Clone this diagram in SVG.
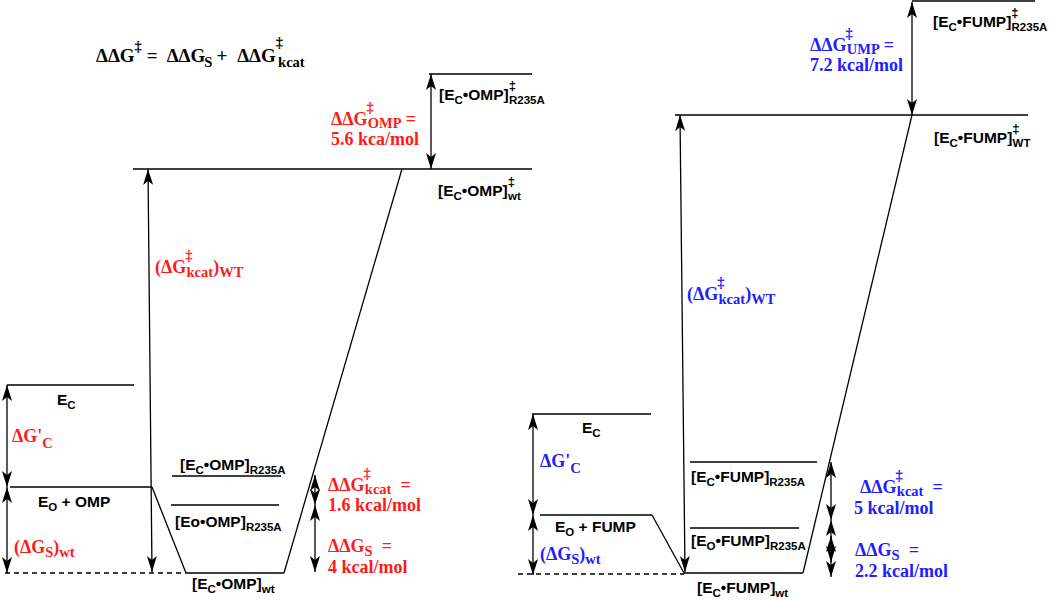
<svg xmlns="http://www.w3.org/2000/svg" width="1050" height="600" viewBox="0 0 1050 600">
<defs>
<style>
.ln{stroke:#000;stroke-width:1.3;fill:none}
.dash{stroke-dasharray:5 4}
.arr{marker-start:url(#ah);marker-end:url(#ah)}
.lb{font-family:"Liberation Sans",Arial,sans-serif;font-weight:bold;font-size:15.5px;fill:#000}
.sb{font-size:11.5px}
.sp{font-size:13px}
.sr{font-family:"Liberation Serif","Times New Roman",serif;font-weight:bold;font-size:18px}
.s13{font-size:14.5px}
.fm{font-size:19px}
.red{fill:#ff1a1a}
.blue{fill:#2020ff}
.blk{fill:#000}
</style>
<marker id="ah" viewBox="0 -5 16 10" refX="16" refY="0" markerWidth="16" markerHeight="10" markerUnits="userSpaceOnUse" orient="auto-start-reverse">
<path d="M0,-5 L16,0 L0,5 L4,0 z" fill="#000"/>
</marker>
</defs>
<rect width="1050" height="600" fill="#fff"/>

<g id="formula">
<text class="sr fm blk" x="96" y="62">ΔΔG<tspan class="s13" dy="-11">‡</tspan><tspan dx="5" dy="11">=</tspan><tspan dx="9">ΔΔG</tspan><tspan class="s13" dx="-1" dy="5">S</tspan><tspan dx="4" dy="-5">+</tspan><tspan dx="10">ΔΔG</tspan><tspan class="s13" dy="-15">‡</tspan><tspan class="s13" dx="-5" dy="20">kcat</tspan></text>
</g>

<g id="connectors">
<!-- left diagram -->
<line class="ln" x1="402" y1="169" x2="284" y2="573"/>
<line class="ln" x1="152" y1="487" x2="186" y2="573"/>
<line class="ln dash" x1="5" y1="573" x2="186" y2="573"/>
<line class="ln arr" x1="431" y1="74" x2="431" y2="169"/>
<line class="ln arr" x1="148" y1="169" x2="152" y2="572"/>
<line class="ln arr" x1="7" y1="385" x2="7" y2="487"/>
<line class="ln arr" x1="7" y1="487" x2="7" y2="573"/>
<line class="ln arr" x1="315" y1="475" x2="315" y2="505"/>
<line class="ln arr" x1="315" y1="505" x2="315" y2="572"/>
<!-- right diagram -->
<line class="ln" x1="912" y1="115" x2="803" y2="573"/>
<line class="ln" x1="652" y1="515" x2="684" y2="573"/>
<line class="ln dash" x1="518" y1="574" x2="684" y2="574"/>
<line class="ln arr" x1="912" y1="2" x2="912" y2="115"/>
<line class="ln arr" x1="680" y1="115" x2="685" y2="572"/>
<line class="ln arr" x1="533" y1="414" x2="533" y2="515"/>
<line class="ln arr" x1="533" y1="515" x2="533" y2="575"/>
<line class="ln arr" x1="831" y1="462" x2="831" y2="520"/>
<line class="ln arr" x1="831" y1="520" x2="831" y2="577"/>
<line class="ln arr" x1="831" y1="536" x2="831" y2="562"/>
</g>

<!-- left nodes -->
<g id="L-ts-r235a">
<line class="ln" x1="429" y1="74" x2="532" y2="74"/>
<text class="lb" x="439" y="100">[E<tspan class="sb" dy="4">C</tspan><tspan dy="-4">•OMP]</tspan><tspan class="sp" dy="-10">‡</tspan><tspan class="sb" dx="-7" dy="14">R235A</tspan></text>
</g>
<g id="L-ts-wt">
<line class="ln" x1="133" y1="169" x2="532" y2="169"/>
<text class="lb" x="438" y="196">[E<tspan class="sb" dy="4">C</tspan><tspan dy="-4">•OMP]</tspan><tspan class="sp" dy="-10">‡</tspan><tspan class="sb" dx="-7" dy="14">wt</tspan></text>
</g>
<g id="L-ec">
<line class="ln" x1="7" y1="385" x2="134" y2="385"/>
<text class="lb" x="57" y="405">E<tspan class="sb" dy="4">C</tspan></text>
</g>
<g id="L-eo-omp">
<line class="ln" x1="10" y1="487" x2="152" y2="487"/>
<text class="lb" x="38" y="507">E<tspan class="sb" dy="4">O</tspan><tspan dy="-4"> + OMP</tspan></text>
</g>
<g id="L-ec-omp-r235a">
<line class="ln" x1="172" y1="476" x2="281" y2="476"/>
<text class="lb" x="180" y="470">[E<tspan class="sb" dy="4">C</tspan><tspan dy="-4">•OMP]</tspan><tspan class="sb" dy="4">R235A</tspan></text>
</g>
<g id="L-eo-omp-r235a">
<line class="ln" x1="171" y1="505" x2="279" y2="505"/>
<text class="lb" x="175" y="527">[Eo•OMP]<tspan class="sb" dy="4">R235A</tspan></text>
</g>
<g id="L-ec-omp-wt">
<line class="ln" x1="186" y1="573" x2="284" y2="573"/>
<text class="lb" x="192" y="589">[E<tspan class="sb" dy="4">C</tspan><tspan dy="-4">•OMP]</tspan><tspan class="sb" dy="4">wt</tspan></text>
</g>

<!-- left energy labels -->
<g id="L-labels" class="sr red">
<text x="331" y="125">ΔΔG<tspan class="s13" dx="-1" dy="-13">‡</tspan><tspan class="s13" dx="-6" dy="16">OMP</tspan><tspan dx="4" dy="-3">=</tspan></text>
<text x="331" y="145">5.6 kca/mol</text>
<text x="155" y="273">(ΔG<tspan class="s13" dx="-1" dy="-13">‡</tspan><tspan class="s13" dx="-6" dy="17">kcat</tspan><tspan dy="-4">)</tspan><tspan class="s13" dy="4">WT</tspan></text>
<text x="12" y="442">ΔG'<tspan class="s13" dy="6">C</tspan></text>
<text x="14" y="553">(ΔG<tspan class="s13" dy="4">S</tspan><tspan dy="-4">)</tspan><tspan class="s13" dy="4">wt</tspan></text>
<text x="328" y="491">ΔΔG<tspan class="s13" dx="-1" dy="-13">‡</tspan><tspan class="s13" dx="-6" dy="16">kcat</tspan><tspan dx="9" dy="-3">=</tspan></text>
<text x="328" y="511">1.6 kcal/mol</text>
<text x="328" y="552">ΔΔG<tspan class="s13" dy="4">S</tspan><tspan dx="9" dy="-4">=</tspan></text>
<text x="328" y="573">4 kcal/mol</text>
</g>

<!-- right nodes -->
<g id="R-ts-r235a">
<line class="ln" x1="912" y1="1" x2="1035" y2="1"/>
<text class="lb" x="933" y="27">[E<tspan class="sb" dy="4">C</tspan><tspan dy="-4">•FUMP]</tspan><tspan class="sp" dy="-10">‡</tspan><tspan class="sb" dx="-7" dy="14">R235A</tspan></text>
</g>
<g id="R-ts-wt">
<line class="ln" x1="675" y1="115" x2="1028" y2="115"/>
<text class="lb" x="934" y="143">[E<tspan class="sb" dy="4">C</tspan><tspan dy="-4">•FUMP]</tspan><tspan class="sp" dy="-10">‡</tspan><tspan class="sb" dx="-7" dy="14">WT</tspan></text>
</g>
<g id="R-ec">
<line class="ln" x1="532" y1="414" x2="651" y2="414"/>
<text class="lb" x="582" y="433">E<tspan class="sb" dy="4">C</tspan></text>
</g>
<g id="R-eo-fump">
<line class="ln" x1="540" y1="515" x2="652" y2="515"/>
<text class="lb" x="555" y="532">E<tspan class="sb" dy="4">O</tspan><tspan dy="-4"> + FUMP</tspan></text>
</g>
<g id="R-ec-fump-r235a">
<line class="ln" x1="690" y1="462" x2="817" y2="462"/>
<text class="lb" x="691" y="482">[E<tspan class="sb" dy="4">C</tspan><tspan dy="-4">•FUMP]</tspan><tspan class="sb" dy="4">R235A</tspan></text>
</g>
<g id="R-eo-fump-r235a">
<line class="ln" x1="690" y1="528" x2="799" y2="528"/>
<text class="lb" x="691" y="546">[E<tspan class="sb" dy="4">O</tspan><tspan dy="-4">•FUMP]</tspan><tspan class="sb" dy="4">R235A</tspan></text>
</g>
<g id="R-ec-fump-wt">
<line class="ln" x1="684" y1="573" x2="803" y2="573"/>
<text class="lb" x="697" y="593">[E<tspan class="sb" dy="4">C</tspan><tspan dy="-4">•FUMP]</tspan><tspan class="sb" dy="4">wt</tspan></text>
</g>

<!-- right energy labels -->
<g id="R-labels" class="sr blue">
<text x="810" y="51">ΔΔG<tspan class="s13" dx="-1" dy="-13">‡</tspan><tspan class="s13" dx="-6" dy="16">UMP</tspan><tspan dx="4" dy="-3">=</tspan></text>
<text x="810" y="71">7.2 kcal/mol</text>
<text x="687" y="300">(ΔG<tspan class="s13" dx="-1" dy="-13">‡</tspan><tspan class="s13" dx="-6" dy="17">kcat</tspan><tspan dy="-4">)</tspan><tspan class="s13" dy="4">WT</tspan></text>
<text x="540" y="467">ΔG'<tspan class="s13" dy="6">C</tspan></text>
<text x="540" y="560">(ΔG<tspan class="s13" dy="4">S</tspan><tspan dy="-4">)</tspan><tspan class="s13" dy="4">wt</tspan></text>
<text x="860" y="493">ΔΔG<tspan class="s13" dx="-1" dy="-13">‡</tspan><tspan class="s13" dx="-6" dy="16">kcat</tspan><tspan dx="9" dy="-3">=</tspan></text>
<text x="854" y="514">5 kcal/mol</text>
<text x="855" y="556">ΔΔG<tspan class="s13" dy="4">S</tspan><tspan dx="9" dy="-4">=</tspan></text>
<text x="855" y="577">2.2 kcal/mol</text>
</g>
</svg>
